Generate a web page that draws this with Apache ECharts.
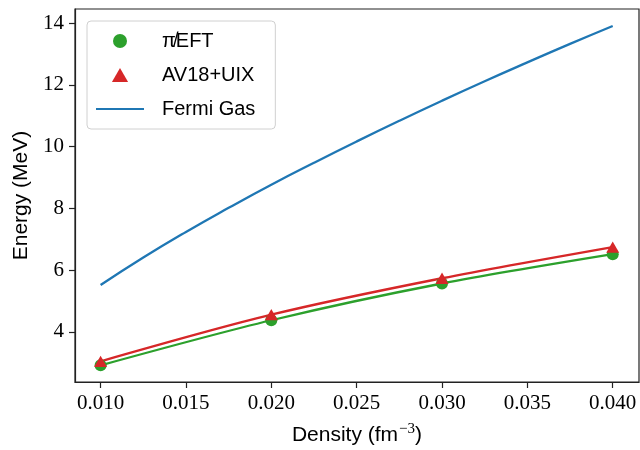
<!DOCTYPE html>
<html>
<head>
<meta charset="utf-8">
<script src="https://cdn.jsdelivr.net/npm/echarts@6/dist/echarts.min.js"></script>
<style>
  html, body { margin: 0; padding: 0; background: #fff; }
  #chart { width: 640px; height: 450px; }
</style>
</head>
<body>
<div id="chart"></div>
<script>
// density points (fm^-3)
const density = [0.010, 0.020, 0.030, 0.040]
const eftEnergy = [2.92, 4.38, 5.57, 6.52]
const av18Energy = [3.05, 4.56, 5.74, 6.75]

// fermi gas curve
const fermiDensity = [0.010, 0.0125, 0.015, 0.0175, 0.020, 0.0225, 0.025, 0.0275, 0.030, 0.0325, 0.035, 0.0375, 0.040]
const fermiEnergy = [5.52, 6.41, 7.24, 8.02, 8.77, 9.48, 10.17, 10.84, 11.49, 12.12, 12.73, 13.33, 13.91]

const xTicks = [0.010, 0.015, 0.020, 0.025, 0.030, 0.035, 0.040]
const yTicks = [4, 6, 8, 10, 12, 14]

const serif = '"Liberation Serif", "DejaVu Serif", serif'
const sans = '"Liberation Sans", Arial, sans-serif'
const triPath = 'path://M5,0L10,8.66L0,8.66Z'
const linePath = 'path://M0,0H48V2.2H0Z'

const zip = (xs, ys) => xs.map((x, i) => [x, ys[i]])

const chart = echarts.init(document.getElementById('chart'))
chart.setOption({
  animation: false,
  backgroundColor: '#fff',
  grid: {
    left: 75,
    right: 1,
    top: 9,
    bottom: 68,
    outerBoundsMode: 'none',
    containLabel: false,
    show: true,
    borderColor: '#222',
    borderWidth: 1.2
  },
  legend: {
    orient: 'vertical',
    left: 87,
    top: 21,
    itemWidth: 48,
    itemHeight: 14,
    itemGap: 14,
    padding: [10, 20, 10, 9],
    backgroundColor: 'rgba(255,255,255,0.8)',
    borderColor: '#d0d0d0',
    borderWidth: 1,
    borderRadius: 4,
    textStyle: { fontFamily: sans, fontSize: 20, color: '#000', padding: [0, 0, 0, 13] },
    data: [
      { name: 'π\u0338EFT', icon: 'circle' },
      { name: 'AV18+UIX', icon: triPath },
      { name: 'Fermi Gas', icon: linePath }
    ]
  },
  xAxis: {
    type: 'value',
    min: 0.0085,
    max: 0.04154,
    name: '{a|Density (fm}{s|−3}{a|)}',
    nameLocation: 'middle',
    nameGap: 40,
    nameTextStyle: {
      rich: {
        a: { fontFamily: sans, fontSize: 21, color: '#000' },
        s: { fontFamily: serif, fontSize: 15, color: '#000', padding: [0, 0, 12, 1] }
      }
    },
    axisLine: { show: true, lineStyle: { color: '#222', width: 1.2 } },
    axisTick: { show: true, length: 6, customValues: xTicks, lineStyle: { color: '#222', width: 1.2 } },
    axisLabel: {
      customValues: xTicks,
      formatter: v => v.toFixed(3),
      fontFamily: serif,
      fontSize: 21,
      color: '#000',
      margin: 11
    },
    splitLine: { show: false }
  },
  yAxis: {
    type: 'value',
    min: 2.38,
    max: 14.46,
    name: 'Energy (MeV)',
    nameLocation: 'middle',
    nameGap: 42,
    nameTextStyle: { fontFamily: sans, fontSize: 21, color: '#000' },
    axisLine: { show: true, lineStyle: { color: '#222', width: 1.2 } },
    axisTick: { show: true, length: 6, customValues: yTicks, lineStyle: { color: '#222', width: 1.2 } },
    axisLabel: {
      customValues: yTicks,
      fontFamily: serif,
      fontSize: 21,
      color: '#000',
      margin: 11
    },
    splitLine: { show: false }
  },
  series: [
    {
      name: 'eft-fit',
      type: 'line',
      data: zip(density, eftEnergy),
      smooth: 0.3,
      showSymbol: false,
      symbol: 'none',
      lineStyle: { color: '#2ca02c', width: 2.3 },
      z: 2
    },
    {
      name: 'av18-fit',
      type: 'line',
      data: zip(density, av18Energy),
      smooth: 0.3,
      showSymbol: false,
      symbol: 'none',
      lineStyle: { color: '#d62728', width: 2.3 },
      z: 2
    },
    {
      name: 'Fermi Gas',
      type: 'line',
      data: zip(fermiDensity, fermiEnergy),
      smooth: true,
      symbol: 'none',
      symbolKeepAspect: true,
      lineStyle: { color: '#1f77b4', width: 2.3 },
      itemStyle: { color: '#1f77b4' },
      z: 2
    },
    {
      name: 'π\u0338EFT',
      type: 'scatter',
      data: zip(density, eftEnergy),
      symbol: 'circle',
      symbolSize: 12,
      itemStyle: { color: '#2ca02c', opacity: 1 },
      z: 3
    },
    {
      name: 'AV18+UIX',
      type: 'scatter',
      data: zip(density, av18Energy),
      symbol: triPath,
      symbolSize: 13,
      symbolKeepAspect: true,
      itemStyle: { color: '#d62728', opacity: 1 },
      z: 4
    }
  ]
})
</script>
</body>
</html>
